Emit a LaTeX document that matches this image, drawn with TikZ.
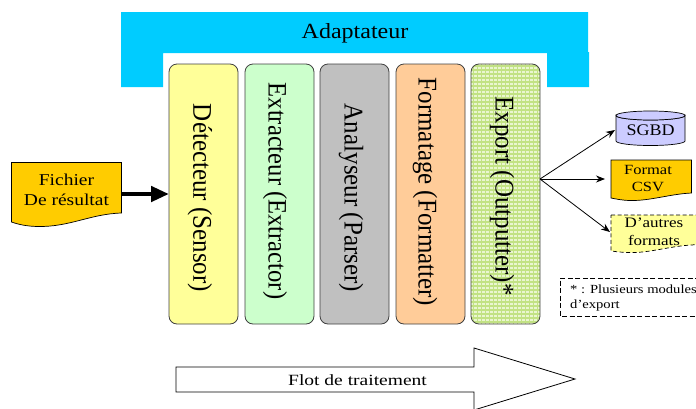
\documentclass[tikz,border=0pt]{standalone}
\usepackage{fontspec}
\setmainfont{Liberation Serif}
\usetikzlibrary{arrows.meta}
\definecolor{adapt}{HTML}{00CCFF}
\definecolor{yel}{HTML}{FFFF99}
\definecolor{grn}{HTML}{CCFFCC}
\definecolor{gry}{HTML}{C0C0C0}
\definecolor{ora}{HTML}{FFCC99}
\definecolor{gold}{HTML}{FFCC00}
\definecolor{lav}{HTML}{CCCCFF}
\definecolor{patbg}{HTML}{EAF6D0}
\definecolor{patln}{HTML}{C2E284}
\tikzset{
 stage/.style={draw=black!75,line width=.8pt,rounded corners=8pt,minimum width=69pt,minimum height=260pt,inner sep=0pt,outer sep=0pt},
 vlabel/.style={font=\fontsize{25}{25}\selectfont,xscale=1.08,rotate=-90,transform shape,inner sep=0pt},
 hlabel/.style={align=center,yscale=.85,transform shape,inner sep=0pt},
 link/.style={-{Stealth[length=9pt,width=7pt]},line width=.8pt,black},
 docline/.style={draw=black,line width=.7pt},
}
\begin{document}
\begin{tikzpicture}[x=1pt,y=-1pt]
\useasboundingbox (0,0) rectangle (696,408);
\clip (0,0) rectangle (696,408);
% adapter
\fill[adapt] (121,12) -- (588,12) -- (588,52) -- (589,52) -- (589,87) -- (547,87) -- (547,53) -- (163,53) -- (163,87) -- (121,87) -- cycle;
\node[font=\fontsize{24}{24}\selectfont,yscale=.9,transform shape,inner sep=0pt] (adaptlabel) at (355,33) {Adaptateur};
% stages
\node[stage,fill=yel] (sensor) at (203.5,194) {};
\node[stage,fill=grn] (extractor) at (279.5,194) {};
\node[stage,fill=gry] (parser) at (354.5,194) {};
\node[stage,fill=ora] (formatter) at (430.5,194) {};
\node[stage,fill=patbg,path picture={
  \draw[patln,line width=1.3pt,step=4pt] (path picture bounding box.south west) grid (path picture bounding box.north east);
}] (outputter) at (505.5,194) {};
\node[vlabel] (t1) at (200,198) {Détecteur (Sensor)};
\node[vlabel,font=\fontsize{24.6}{25}\selectfont] (t2) at (275,191) {Extracteur (Extractor)};
\node[vlabel] (t3) at (351,198) {Analyseur (Parser)};
\node[vlabel] (t4) at (425,192) {Formatage (Formatter)};
\node[vlabel] (t5) at (502,196) {Export (Outputter)*};
% file
\path[docline,fill=gold] (11.5,162.5) -- (121.5,162.5) -- (121.5,213) .. controls (90,214) and (70,227) .. (38,226.5) .. controls (28,226.3) and (20,225) .. (11.5,222) -- cycle;
\node[hlabel,font=\fontsize{19.5}{23.5}\selectfont] (file) at (66.5,190) {Fichier\\De résultat};
\draw[line width=4.5pt,-{Triangle[length=18pt,width=15pt]}] (121.5,194) -- (sensor.west);
% sgbd
\path[docline,fill=lav] (616,115.5) arc[start angle=180,end angle=360,x radius=34.5pt,y radius=4.5pt] -- (685,141) arc[start angle=0,end angle=180,x radius=34.5pt,y radius=-4.5pt] -- cycle;
\draw[docline,fill=lav] (650.5,115.5) ellipse[x radius=34.5pt,y radius=4.5pt];
\node[font=\fontsize{18}{18}\selectfont,yscale=.9,transform shape,inner sep=0pt,minimum width=69pt,minimum height=30pt,outer sep=1pt] (sgbd) at (650.5,130) {SGBD};
% csv
\path[docline,fill=gold] (611,160) -- (691.5,160) -- (691.5,193) .. controls (670,194) and (650,201) .. (630,200.5) .. controls (622,200.3) and (616,199) .. (611,198) -- cycle;
\node[hlabel,font=\fontsize{16.5}{20}\selectfont,minimum width=80pt,outer sep=3pt] (csv) at (648,179) {Format\\CSV};
% others
\path[docline,fill=yel,dashed,dash pattern=on 4pt off 2.5pt] (611,215) -- (700,215) -- (700,244) -- (692,245) .. controls (670,246) and (650,253) .. (630,252.5) .. controls (622,252.3) and (616,252) .. (611,250.7) -- cycle;
\node[hlabel,font=\fontsize{17}{21}\selectfont,minimum width=80pt,outer sep=4pt] (others) at (654,232) {D’autres\\formats};
% outputs
\coordinate (out) at (540,179);
\draw[link] (out) -- (sgbd.west);
\draw[link] (out) -- (csv.west);
\draw[link] (out) -- (others.west);
% note
\draw[black,line width=.7pt,dash pattern=on 5pt off 2.5pt] (700,278) -- (560,278) -- (560,316) -- (700,316);
\node[hlabel,font=\fontsize{14.6}{17.5}\selectfont,align=left,anchor=west] (note) at (570,298) {* : Plusieurs modules\\d’export};
% flow arrow
\draw[black,line width=.8pt,fill=white] (176,367) -- (474,367) -- (474,348) -- (575,379) -- (474,410) -- (474,392) -- (176,392) -- cycle;
\node[font=\fontsize{19.5}{20}\selectfont,yscale=.8,transform shape,inner sep=0pt] (flow) at (357.5,380) {Flot de traitement};
\end{tikzpicture}
\end{document}
